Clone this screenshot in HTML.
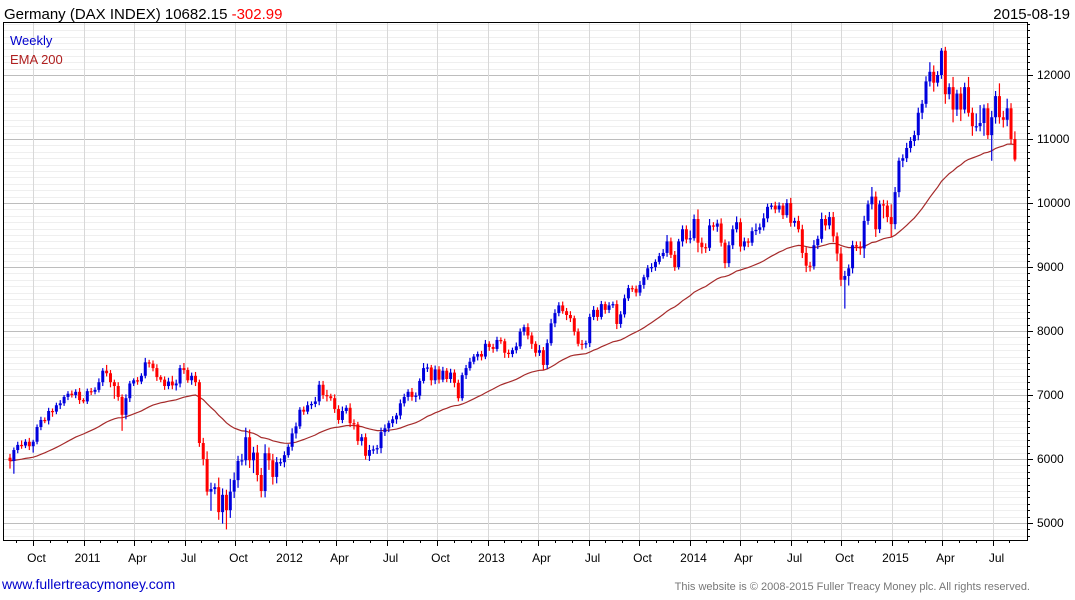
<!DOCTYPE html>
<html><head><meta charset="utf-8"><style>
body{margin:0;background:#fff;width:1075px;height:600px;overflow:hidden;font-family:"Liberation Sans",sans-serif;}
svg{position:absolute;left:0;top:0}
</style></head><body>
<svg id="chart" width="1075" height="600" xmlns="http://www.w3.org/2000/svg" font-family="Liberation Sans, sans-serif">
<g id="grid"></g>
<g id="ema"></g>
<g id="candles"></g>
<g id="axes"></g>
<text x="4" y="19" font-size="15" fill="#000">Germany (DAX INDEX) 10682.15 <tspan fill="#ff0000">-302.99</tspan></text>
<text x="1070" y="19" font-size="15" fill="#000" text-anchor="end">2015-08-19</text>
<text x="10" y="45" font-size="13" fill="#0000cc">Weekly</text>
<text x="10" y="64" font-size="13" fill="#b02020">EMA 200</text>
<text x="2" y="589" font-size="14" fill="#0000cc">www.fullertreacymoney.com</text>
<text x="1030" y="590" font-size="11" fill="#777" text-anchor="end">This website is © 2008-2015 Fuller Treacy Money plc. All rights reserved.</text>
</svg>
<script>
const closes=[5970,6140,6220,6210,6270,6200,6270,6500,6610,6600,
6750,6740,6840,6870,6970,7020,7000,7050,6920,6900,
7060,7050,7080,7200,7380,7340,7200,7140,6970,6690,
6950,7180,7230,7210,7300,7510,7490,7420,7280,7240,
7140,7210,7150,7180,7420,7390,7230,7300,7200,6250,
6000,5490,5530,5560,5170,5440,5200,5490,5670,5970,
5980,6340,5980,6100,5750,5500,6090,5980,5720,5950,
5950,6060,6190,6400,6510,6770,6740,6840,6860,6900,
7160,7000,6980,6950,6780,6610,6750,6800,6560,6540,
6280,6340,6050,6140,6150,6170,6420,6480,6560,6620,
6680,6870,6970,7050,6970,6990,7220,7420,7430,7230,
7400,7240,7380,7250,7350,7190,6950,7310,7420,7520,
7600,7640,7600,7800,7750,7720,7860,7840,7660,7640,
7700,7760,7990,8060,7930,7800,7660,7700,7470,7810,
8120,8280,8400,8310,8250,8200,7990,7800,7790,7810,
8220,8330,8220,8420,8330,8400,8420,8110,8260,8510,
8670,8660,8600,8720,8840,8980,9000,9080,9170,9220,
9400,9190,9000,9400,9590,9430,9450,9750,9380,9310,
9300,9650,9630,9680,9380,9060,9340,9590,9700,9320,
9400,9380,9560,9580,9620,9760,9940,9960,9900,9960,
9810,10000,9690,9720,9590,9220,9020,9010,9340,9440,
9750,9650,9780,9480,9210,8800,8860,8980,9340,9320,
9290,9720,9980,10100,9590,9980,9960,9780,9670,10170,
10660,10700,10860,10970,11060,11410,11550,11900,12050,11880,
12000,12380,11700,11810,11460,11710,11460,11810,11410,11200,
11200,11250,11480,11060,11340,11670,11340,11300,11480,11000,10680];
const firstOpen=6020;
const upperWick=[60,40,50,70,40,60,30,40,50,40,50,40,40,50,30,40,50,40,60,30,
40,50,40,60,40,90,50,40,60,40,60,40,30,50,40,70,40,50,60,30,
50,60,90,60,50,80,40,50,60,40,80,120,100,60,150,100,80,200,120,80,
100,150,120,90,120,110,140,90,100,80,60,60,40,80,60,40,50,60,40,70,
60,60,80,40,60,60,70,40,70,60,40,50,60,80,60,50,70,60,40,50,
40,60,50,40,60,50,40,80,60,40,60,50,60,40,60,50,50,40,50,60,
40,40,50,60,40,50,50,40,40,50,40,60,50,40,60,50,40,80,50,60,
70,60,50,60,50,60,40,50,60,40,50,60,40,50,40,50,40,60,50,60,
50,40,50,60,40,50,60,40,50,60,100,60,60,40,60,60,120,70,150,80,
60,100,50,60,80,50,60,60,90,60,60,50,60,100,60,80,50,40,60,50,
40,60,80,50,80,70,90,60,80,50,100,60,80,80,60,100,80,60,70,60,
80,80,60,150,80,60,70,80,200,80,50,60,80,60,70,80,60,80,150,100,
60,40,60,60,160,60,100,70,160,80,200,280,60,80,100,80,200,100,150,80,120];
const lowerWick=[120,200,50,50,40,60,100,40,50,40,60,80,40,60,40,50,40,50,60,30,
40,50,40,40,60,50,80,200,60,250,70,60,40,50,40,40,60,50,60,40,
60,50,60,80,60,60,40,70,60,60,100,60,300,80,120,180,300,120,100,120,
70,80,120,200,100,100,100,150,120,100,60,80,40,60,80,40,50,40,60,50,
60,60,80,40,60,60,50,40,60,80,60,70,60,80,60,70,80,60,60,60,
70,60,50,60,60,80,60,40,60,80,60,60,40,50,60,70,50,40,60,40,
40,60,60,40,60,60,40,40,80,60,50,50,40,60,60,80,60,50,80,60,
40,60,50,40,80,60,60,40,80,60,60,50,60,40,60,50,40,80,60,50,
40,50,60,50,60,40,60,60,40,40,60,50,60,40,80,60,60,40,150,100,
80,50,60,80,60,80,60,60,50,80,60,70,50,60,60,50,60,40,60,50,
60,40,60,60,50,80,100,80,50,60,60,80,60,90,120,100,450,150,80,70,
100,150,60,80,120,60,200,80,200,80,80,100,60,70,80,80,100,60,80,140,
60,60,150,80,200,100,180,60,60,150,80,80,200,60,400,100,100,120,100,80,30];
const emaSeed=5970;
const yTicks=[5000,6000,7000,8000,9000,10000,11000,12000];
const xTickLabels=["Oct","2011","Apr","Jul","Oct","2012","Apr","Jul","Oct","2013","Apr","Jul","Oct","2014","Apr","Jul","Oct","2015","Apr","Jul"];

const NS="http://www.w3.org/2000/svg";
const L=3,R=1027,T=22,B=540;
function yS(v){return 523-(v-5000)*0.064;}
function xS(i){return 10+i*3.865;}
function xGrid(k){return 33+k*50.5;}
function mk(tag,attrs,parent){const e=document.createElementNS(NS,tag);for(const k in attrs)e.setAttribute(k,attrs[k]);parent.appendChild(e);return e;}
const grid=document.getElementById('grid'),axes=document.getElementById('axes'),cg=document.getElementById('candles'),eg=document.getElementById('ema');
for(let v=4800;v<=12800;v+=100){const y=Math.round(yS(v))+0.5;if(y<T||y>B)continue;const major=v%1000===0;
const ln=mk('line',{x1:L,x2:R,y1:y,y2:y,stroke:major?'#bdbdbd':'#efefef','stroke-width':1},grid);


const tk=mk('line',{x1:R,x2:R+(major?6:3),y1:y,y2:y,stroke:'#000','stroke-width':1},axes);

}
xTickLabels.forEach((lab,k)=>{const x=Math.round(xGrid(k))+0.5;
const ln=mk('line',{x1:x,x2:x,y1:T,y2:B,stroke:'#d8d8d8','stroke-width':1},grid);


const tk=mk('line',{x1:x,x2:x,y1:B,y2:B+6,stroke:'#000','stroke-width':1},axes);


const t=mk('text',{x:x+3,y:B+22,'font-size':12,'text-anchor':'middle',fill:'#000'},axes);t.textContent=lab;

});
for(let m=0;m<60;m++){const x=Math.round(33+(m-1)*50.5/3)+0.5;if(x<L||x>R)continue;
const tk=mk('line',{x1:x,x2:x,y1:B,y2:B+3,stroke:'#000','stroke-width':1},axes);

}
yTicks.forEach(v=>{const t=mk('text',{x:1037,y:yS(v)+4,'font-size':12,fill:'#000'},axes);t.textContent=v;

});
const fr=mk('rect',{x:L+0.5,y:T+0.5,width:R-L,height:B-T,fill:'none',stroke:'#000','stroke-width':1},axes);


let prev=firstOpen;
closes.forEach((c,i)=>{const o=prev;prev=c;const up=c>=o;const col=up?'#0000dd':'#ff0000';
const hi=Math.max(o,c)+upperWick[i],lo=Math.min(o,c)-lowerWick[i];const x=xS(i);
const g=mk('g',{},cg);


mk('line',{x1:x,x2:x,y1:yS(hi),y2:yS(lo),stroke:col,'stroke-width':1.2},g);
const yt=yS(Math.max(o,c)),yb=yS(Math.min(o,c));
mk('rect',{x:x-1.5,y:yt,width:3,height:Math.max(1.2,yb-yt),fill:col},g);});
let e=emaSeed;const a=2/46;let d='';
closes.forEach((c,i)=>{e=i===0?emaSeed:e+a*(c-e);d+=(i?'L':'M')+xS(i).toFixed(1)+','+yS(e).toFixed(1);});
const p=mk('path',{d:d,fill:'none',stroke:'#a52a2a','stroke-width':1.2},eg);


</script>
</body></html>
